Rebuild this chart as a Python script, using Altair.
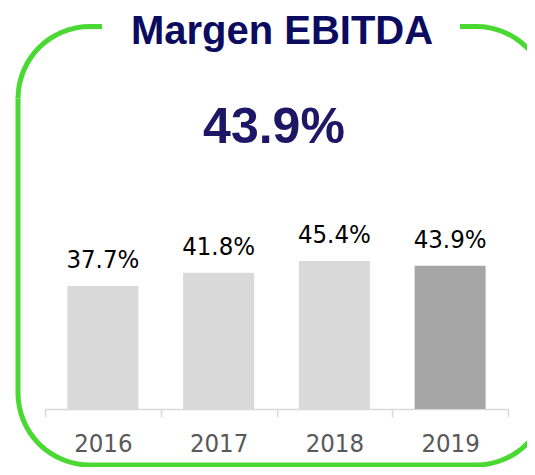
import math
import altair as alt
import pandas as pd

years = ["2016", "2017", "2018", "2019"]
margins = [37.7, 41.8, 45.4, 43.9]
bar_colors = ["#d9d9d9", "#d9d9d9", "#d9d9d9", "#a6a6a6"]
title_text = "Margen EBITDA"
headline = "43.9%"

df = pd.DataFrame({
    "year": years,
    "margin": margins,
    "color": bar_colors,
    "label": [f"{v:.1f}%" for v in margins],
})
one = pd.DataFrame({"k": [0]})

GREEN = "#4ad932"
W, H = 463, 300
x_enc = alt.X("year:N", sort=years, title=None,
              scale=alt.Scale(paddingInner=0, paddingOuter=0),
              axis=alt.Axis(labelAngle=0, tickBand="extent", domainColor="#d9d9d9",
                            tickColor="#d9d9d9", tickSize=8, domainWidth=1.5, tickWidth=1.5,
                            labelFont="DejaVu Sans Condensed", labelFontSize=25.5,
                            labelColor="#595959", labelPadding=14))
y_enc = alt.Y("margin:Q", scale=alt.Scale(domain=[0, 92], nice=False), axis=None)

# rounded frame built from corner arcs and straight rules (decoration)
L, T, R, B, RAD, SW = -27, -82.5, 503, 356, 72, 5
frame = []
corners = [
    (L + RAD, T + RAD, 1.5 * math.pi, 2 * math.pi),
    (R - RAD, T + RAD, 0.0, 0.5 * math.pi),
    (R - RAD, B - RAD, 0.5 * math.pi, math.pi),
    (L + RAD, B - RAD, math.pi, 1.5 * math.pi),
]
for cx, cy, t1, t2 in corners:
    frame.append(alt.Chart(one).mark_arc(theta=t1, theta2=t2, radius=RAD + SW / 2,
                                         radius2=RAD - SW / 2, color=GREEN).encode(
        x=alt.value(cx), y=alt.value(cy)))
segments_h = [(L + RAD, 57, T), (415, R - RAD, T), (L + RAD, R - RAD, B)]
for x1, x2, yy in segments_h:
    frame.append(alt.Chart(one).mark_rule(color=GREEN, strokeWidth=SW).encode(
        x=alt.value(x1), x2=alt.value(x2), y=alt.value(yy)))
frame.append(alt.Chart(one).mark_rule(color=GREEN, strokeWidth=SW).encode(
    x=alt.value(L), y=alt.value(T + RAD), y2=alt.value(B - RAD)))

title = alt.Chart(one).mark_text(text=title_text, font="Liberation Sans", fontWeight="bold",
                                 fontSize=40, color="#0b0b5f", baseline="alphabetic",
                                 align="center").encode(x=alt.value(237), y=alt.value(-65.5))
big = alt.Chart(one).mark_text(text=headline, font="Liberation Sans", fontWeight="bold",
                               fontSize=50, color="#1e1766", baseline="alphabetic",
                               align="center").encode(x=alt.value(229), y=alt.value(34))

bars = alt.Chart(df).mark_bar(width=71).encode(
    x=x_enc, y=y_enc, color=alt.Color("color:N", scale=None))
labels = alt.Chart(df).mark_text(font="DejaVu Sans Condensed", fontSize=25.5, color="#000000",
                                 baseline="alphabetic", dy=-18).encode(
    x=alt.X("year:N", sort=years), y="margin:Q", text="label:N")

chart = alt.layer(*frame, title, big, bars, labels).properties(
    width=W, height=H,
    background="white",
    autosize=alt.AutoSizeParams(type="none"),
    padding={"left": 37, "top": 101, "right": 19, "bottom": 58},
).configure_view(stroke=None)

chart.save("out.html", embed_options={"renderer": "svg", "actions": False})
